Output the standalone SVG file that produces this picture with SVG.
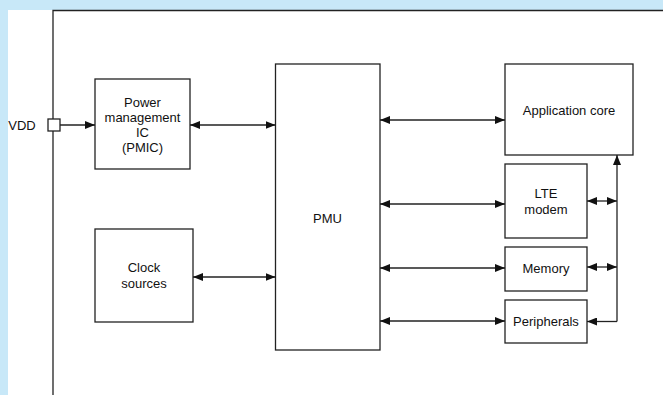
<svg xmlns="http://www.w3.org/2000/svg" width="663" height="395" viewBox="0 0 663 395">
<defs>
<marker id="ah" viewBox="0 0 10 8" refX="10" refY="4" markerWidth="10" markerHeight="8" markerUnits="userSpaceOnUse" orient="auto-start-reverse">
<path d="M0,0 L10,4 L0,8 Z" fill="#111"/>
</marker>
<style>
.box{fill:#fff;stroke:#222;stroke-width:1.3}
.ln{fill:none;stroke:#222;stroke-width:1.3}
text{font-family:"Liberation Sans",Arial,sans-serif;font-size:13px;fill:#111;text-anchor:middle}
</style>
</defs>
<rect x="0" y="0" width="663" height="395" fill="#c8e8f8"/>
<rect x="8" y="10" width="655" height="385" fill="#fff"/>
<g id="frame">
<path class="ln" d="M53,395 V10.5 H663"/>
</g>
<g id="vdd">
<text x="22" y="130">VDD</text>
<rect class="box" x="48" y="119" width="12" height="12"/>
</g>
<g id="pmic">
<rect class="box" x="95" y="79" width="95" height="90"/>
<text x="142.5" y="107">Power</text>
<text x="142.5" y="122">management</text>
<text x="142.5" y="137">IC</text>
<text x="142.5" y="152">(PMIC)</text>
</g>
<g id="clock">
<rect class="box" x="95" y="229" width="98" height="93"/>
<text x="144" y="272">Clock</text>
<text x="144" y="288">sources</text>
</g>
<g id="pmu">
<rect class="box" x="275.5" y="64" width="104.5" height="286"/>
<text x="327.5" y="223">PMU</text>
</g>
<g id="appcore">
<rect class="box" x="505" y="64" width="128" height="91"/>
<text x="569" y="115">Application core</text>
</g>
<g id="lte">
<rect class="box" x="505" y="164" width="82" height="74"/>
<text x="546" y="198">LTE</text>
<text x="546" y="214">modem</text>
</g>
<g id="memory">
<rect class="box" x="505" y="247" width="82" height="44"/>
<text x="546" y="273">Memory</text>
</g>
<g id="peripherals">
<rect class="box" x="505" y="300" width="82" height="43"/>
<text x="546" y="326">Peripherals</text>
</g>
<g id="connectors">
<path class="ln" d="M60,125 H95" marker-end="url(#ah)"/>
<path class="ln" d="M190,125 H275.5" marker-start="url(#ah)" marker-end="url(#ah)"/>
<path class="ln" d="M193,277 H275.5" marker-start="url(#ah)" marker-end="url(#ah)"/>
<path class="ln" d="M380,120 H505" marker-start="url(#ah)" marker-end="url(#ah)"/>
<path class="ln" d="M380,204 H505" marker-start="url(#ah)" marker-end="url(#ah)"/>
<path class="ln" d="M380,268 H505" marker-start="url(#ah)" marker-end="url(#ah)"/>
<path class="ln" d="M380,321 H505" marker-start="url(#ah)" marker-end="url(#ah)"/>
<path class="ln" d="M617,321.5 V155" marker-end="url(#ah)"/>
<path class="ln" d="M617,321.5 H587" marker-end="url(#ah)"/>
<path class="ln" d="M587,201 H617" marker-start="url(#ah)" marker-end="url(#ah)"/>
<path class="ln" d="M587,267 H617" marker-start="url(#ah)" marker-end="url(#ah)"/>
</g>
</svg>
